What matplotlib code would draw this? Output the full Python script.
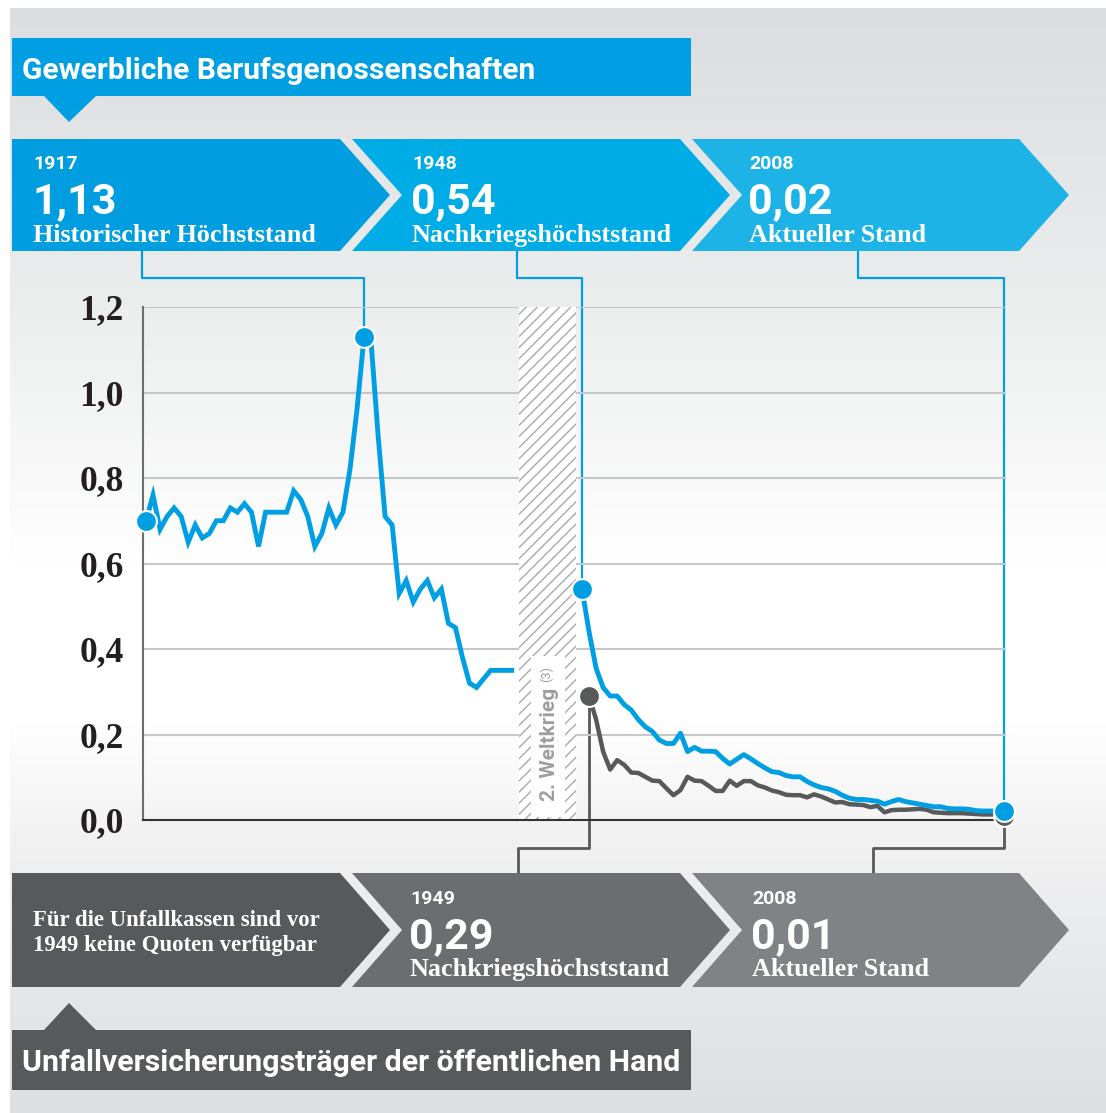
import numpy as np
import matplotlib
matplotlib.use("Agg")
import matplotlib.pyplot as plt
from matplotlib.patches import Polygon, Rectangle
from matplotlib.colors import to_rgb

# Gewerbliche Berufsgenossenschaften, 1886-1938
years_pre = list(range(1886, 1939))
gewerbe_pre = [0.70, 0.76, 0.68, 0.71, 0.73, 0.71, 0.65, 0.69, 0.66, 0.67,
               0.70, 0.70, 0.73, 0.72, 0.74, 0.72, 0.64, 0.72, 0.72, 0.72,
               0.72, 0.77, 0.75, 0.71, 0.64, 0.67, 0.73, 0.69, 0.72, 0.82,
               0.96, 1.13, 1.12, 0.90, 0.71, 0.69, 0.53, 0.56, 0.51, 0.54,
               0.56, 0.52, 0.54, 0.46, 0.45, 0.38, 0.32, 0.31, 0.33, 0.35,
               0.35, 0.35, 0.35]

# Gewerbliche Berufsgenossenschaften, 1948-2008
years_post = list(range(1948, 2009))
gewerbe_post = [0.54, 0.44, 0.355, 0.31, 0.29, 0.29, 0.27, 0.257, 0.235, 0.218,
                0.207, 0.187, 0.179, 0.179, 0.203, 0.160, 0.170, 0.161, 0.161, 0.160,
                0.144, 0.131, 0.142, 0.153, 0.143, 0.132, 0.122, 0.113, 0.111, 0.104,
                0.101, 0.101, 0.090, 0.082, 0.076, 0.073, 0.067, 0.058, 0.051, 0.048,
                0.048, 0.046, 0.044, 0.037, 0.043, 0.048, 0.043, 0.040, 0.037, 0.034,
                0.031, 0.031, 0.027, 0.026, 0.026, 0.025, 0.022, 0.021, 0.021, 0.021,
                0.020]

# Unfallversicherungsträger der öffentlichen Hand, 1949-2008
years_oeff = list(range(1949, 2009))
oeffentlich = [0.29, 0.235, 0.16, 0.118, 0.14, 0.129, 0.111, 0.110, 0.101, 0.092,
               0.091, 0.074, 0.058, 0.070, 0.101, 0.092, 0.091, 0.080, 0.068, 0.068,
               0.092, 0.080, 0.091, 0.091, 0.081, 0.076, 0.069, 0.065, 0.059, 0.058,
               0.058, 0.053, 0.060, 0.055, 0.048, 0.041, 0.042, 0.037, 0.036, 0.035,
               0.030, 0.033, 0.018, 0.023, 0.024, 0.024, 0.025, 0.026, 0.024, 0.018,
               0.017, 0.016, 0.016, 0.016, 0.015, 0.014, 0.013, 0.013, 0.013, 0.010]

yticks = [0.0, 0.2, 0.4, 0.6, 0.8, 1.0, 1.2]
ytick_labels = ["0,0", "0,2", "0,4", "0,6", "0,8", "1,0", "1,2"]
war_years = (1939, 1947.2)

top_boxes = [("1917", "1,13", "Historischer Höchststand"),
             ("1948", "0,54", "Nachkriegshöchststand"),
             ("2008", "0,02", "Aktueller Stand")]
bottom_boxes = [("1949", "0,29", "Nachkriegshöchststand"),
                ("2008", "0,01", "Aktueller Stand")]

BLUE = "#009fe3"
DARK = "#58595b"
SANS = "Roboto"
SERIF = "Liberation Serif"

W, H = 1106, 1113
fig = plt.figure(figsize=(W / 100, H / 100), dpi=100, facecolor="white")

# overlay in pixel coordinates (background, boxes, connectors)
ov = fig.add_axes([0, 0, 1, 1])
ov.set_xlim(0, W)
ov.set_ylim(H, 0)
ov.axis("off")

stops = [(0, "#dcdde0"), (300, "#eceded"), (560, "#ffffff"), (720, "#ffffff"),
         (830, "#f2f2f3"), (1000, "#e5e6e8"), (H, "#dedfe1")]
ys = np.arange(H)
grad = np.zeros((H, 1, 3))
for c in range(3):
    grad[:, 0, c] = np.interp(ys, [s[0] for s in stops], [to_rgb(s[1])[c] for s in stops])
ov.imshow(grad, extent=[10, W, H, 8], aspect="auto", zorder=0)

# main chart
ax = fig.add_axes([143 / W, (H - 820) / H, (1006 - 143) / W, (820 - 307) / H])
ax.set_zorder(1)
ax.patch.set_alpha(0)
ax.set_xlim(1886 - 3 / 7.033, 2008 + 2 / 7.033)
ax.set_ylim(0, 1.2)
ax.set_yticks(yticks)
ax.set_yticklabels(ytick_labels, fontfamily=SERIF, fontweight="bold",
                   fontsize=25.5, color="#231f20")
ax.set_xticks([])
ax.tick_params(axis="y", length=0, pad=14)
ax.grid(axis="y", color="#c6c7c8", lw=1.5)
ax.set_axisbelow(True)
for s in ["top", "right"]:
    ax.spines[s].set_visible(False)
ax.spines["left"].set_color("#6d6e70")
ax.spines["left"].set_linewidth(1.5)
ax.spines["bottom"].set_color("#333333")
ax.spines["bottom"].set_linewidth(1.5)

plt.rcParams["hatch.linewidth"] = 1.0
ax.axvspan(war_years[0], war_years[1], facecolor="white", edgecolor="#aaaaaa",
           hatch="///", lw=0, zorder=1.5)
ax.add_patch(Rectangle((1940.7, 0.008), 4.9, 0.375, facecolor="white",
                       edgecolor="none", zorder=1.6))
ax.text(1943.4, 0.045, "2. Weltkrieg", rotation=90, ha="center", va="bottom",
        fontfamily=SANS, fontweight="bold", fontsize=15, color="#9d9ea0", zorder=1.7)
ax.text(1942.9, 0.322, "(3)", rotation=90, ha="center", va="bottom",
        fontfamily=SANS, fontsize=9, color="#9d9ea0", zorder=1.7)

ax.plot(years_pre, gewerbe_pre, color=BLUE, lw=3.5, solid_joinstyle="miter", zorder=3)
ax.plot(years_post, gewerbe_post, color=BLUE, lw=3.5, zorder=3.2)
ax.plot(years_oeff, oeffentlich, color=DARK, lw=3.2, zorder=3.1)

mk = dict(marker="o", ms=15, mec="white", mew=1.5, ls="none", clip_on=False)
ax.plot(years_oeff[-1], oeffentlich[-1], mfc=DARK, zorder=4, **mk)
ax.plot(years_oeff[0], oeffentlich[0], mfc=DARK, zorder=4, **mk)
peak = int(np.argmax(gewerbe_pre))
ax.plot([years_pre[0], years_pre[peak], years_post[0], years_post[-1]],
        [gewerbe_pre[0], gewerbe_pre[peak], gewerbe_post[0], gewerbe_post[-1]],
        mfc=BLUE, zorder=5, **mk)


def to_px(x, y):
    d = ax.transData.transform((x, y))
    return d[0], H - d[1]


def chevron(x0, x1, y0, y1, color, notch=True):
    ym = (y0 + y1) / 2
    pts = [(x0, y0), (x1, y0), (x1 + 50, ym), (x1, y1), (x0, y1)]
    if notch:
        pts.append((x0 + 50, ym))
    ov.add_patch(Polygon(pts, closed=True, facecolor=color, edgecolor="none", zorder=2))


# header boxes
ov.add_patch(Rectangle((12, 38), 679, 58, facecolor=BLUE, edgecolor="none", zorder=2))
ov.add_patch(Polygon([(44, 96), (96, 96), (69, 122)], facecolor=BLUE, edgecolor="none", zorder=2))
ov.text(22, 79, "Gewerbliche Berufsgenossenschaften", fontfamily=SANS,
        fontweight="bold", fontsize=21.6, color="white", va="baseline", zorder=3)

ov.add_patch(Rectangle((12, 1030), 679, 60, facecolor=DARK, edgecolor="none", zorder=2))
ov.add_patch(Polygon([(44, 1030), (96, 1030), (69, 1003)], facecolor=DARK, edgecolor="none", zorder=2))
ov.text(22, 1071, "Unfallversicherungsträger der öffentlichen Hand", fontfamily=SANS,
        fontweight="bold", fontsize=21.8, color="white", va="baseline", zorder=3)

# top chevrons
top_x = [(12, 340, 33), (352, 680, 412), (692, 1019, 749)]
top_col = ["#009ee0", "#00ace6", "#1eb3e7"]
for i, ((x0, x1, tx), col, (yr, val, lab)) in enumerate(zip(top_x, top_col, top_boxes)):
    chevron(x0, x1, 139, 251, col, notch=i > 0)
    ov.text(tx, 169, yr, fontfamily=SANS, fontweight="bold", fontsize=14,
            color="white", va="baseline", zorder=3)
    ov.text(tx - 1, 213, val, fontfamily=SANS, fontweight="bold", fontsize=31,
            color="white", va="baseline", zorder=3)
    ov.text(tx, 242, lab, fontfamily=SERIF, fontweight="bold", fontsize=18.8,
            color="white", va="baseline", zorder=3)

# bottom chevrons
bot_x = [(12, 340), (352, 680), (692, 1019)]
bot_col = ["#58595b", "#6c6d70", "#808285"]
for i, ((x0, x1), col) in enumerate(zip(bot_x, bot_col)):
    chevron(x0, x1, 873, 987, col, notch=i > 0)
ov.text(33, 926, "Für die Unfallkassen sind vor", fontfamily=SERIF, fontweight="bold",
        fontsize=16.4, color="white", va="baseline", zorder=3)
ov.text(33, 951, "1949 keine Quoten verfügbar", fontfamily=SERIF, fontweight="bold",
        fontsize=16.4, color="white", va="baseline", zorder=3)
for tx, (yr, val, lab) in zip([410, 752], bottom_boxes):
    ov.text(tx, 904, yr, fontfamily=SANS, fontweight="bold", fontsize=14,
            color="white", va="baseline", zorder=3)
    ov.text(tx - 1, 948, val, fontfamily=SANS, fontweight="bold", fontsize=31,
            color="white", va="baseline", zorder=3)
    ov.text(tx, 976, lab, fontfamily=SERIF, fontweight="bold", fontsize=18.8,
            color="white", va="baseline", zorder=3)

# connectors
blue_pts = [(years_pre[peak], gewerbe_pre[peak]), (years_post[0], gewerbe_post[0]),
            (years_post[-1], gewerbe_post[-1])]
for bx, (yx, yv) in zip([142, 517, 858], blue_pts):
    px, py = to_px(yx, yv)
    ov.plot([bx, bx, px, px], [251, 278, 278, py], color=BLUE, lw=1.6, zorder=1)

dark_pts = [(years_oeff[0], oeffentlich[0]), (years_oeff[-1], oeffentlich[-1])]
for bx, (yx, yv) in zip([518, 873], dark_pts):
    px, py = to_px(yx, yv)
    ov.plot([px, px, bx, bx], [py, 848, 848, 873], color=DARK, lw=2, zorder=1)

fig.savefig("out.png", dpi=100)
